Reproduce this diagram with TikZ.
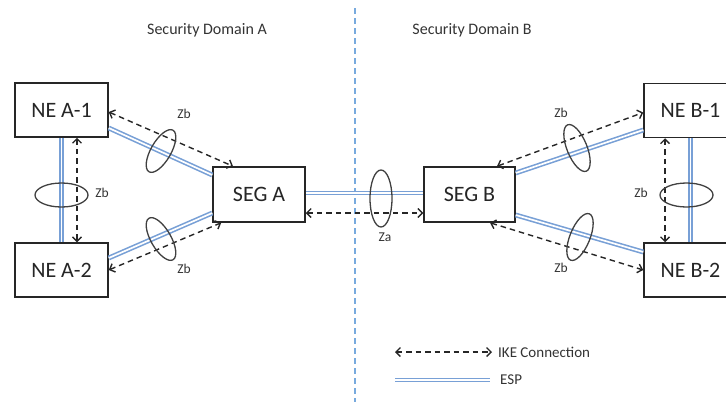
\documentclass[tikz,border=0pt]{standalone}
\usepackage{fontspec}
\setmainfont{Carlito}
\usetikzlibrary{arrows.meta}
\definecolor{espblue}{RGB}{120,160,214}
\definecolor{divblue}{RGB}{120,170,222}
\begin{document}
\begin{tikzpicture}[x=1pt,y=-1pt,
  box/.style={draw=black!85, line width=1.5pt, fill=white, minimum width=93pt, minimum height=54pt, inner sep=0pt, font=\fontsize{22}{25}\selectfont, text=black!85},
  esp/.style={draw=espblue, double=white, line width=1.6pt, double distance=1.7pt},
  ike/.style={draw=black!85, line width=1.4pt, dash pattern=on 5.5pt off 4pt, {Straight Barb[length=4.5pt,width=9pt]}-{Straight Barb[length=4.5pt,width=9pt]}},
  ring/.style={draw=black!75, line width=1.3pt},
  zlab/.style={font=\fontsize{13.5}{15}\selectfont, text=black!80, inner sep=0pt},
  dom/.style={font=\fontsize{16}{18}\selectfont, text=black!80, inner sep=0pt},
  leg/.style={font=\fontsize{15}{17}\selectfont, text=black!80, inner sep=0pt, anchor=west},
  divider/.style={draw=divblue, line width=1.2pt, dash pattern=on 6pt off 4pt}
]
\useasboundingbox (0,0) rectangle (726,402);
\clip (0,0) rectangle (726,402);

% divider
\coordinate (d1) at (355,8);
\coordinate (d2) at (355,402);
\draw[divider] (d1) -- (d2);

% domain titles
\node[dom] (domA) at (207,30) {Security Domain A};
\node[dom] (domB) at (472,30) {Security Domain B};

% boxes
\node[box] (NEA1) at (61.5,110) {NE A-1};
\node[box] (NEA2) at (61.5,270) {NE A-2};
\node[box, minimum width=92pt, minimum height=55pt] (SEGA) at (259,194.5) {SEG A};
\node[box, minimum width=91pt, minimum height=55pt] (SEGB) at (469.5,194.5) {SEG B};
\node[box] (NEB1) at (690.5,110.5) {NE B-1};
\node[box] (NEB2) at (690.5,270) {NE B-2};

% ESP links
\draw[esp] (NEA1.south) -- (NEA2.north);
\draw[esp] ([yshift=-18pt]NEA1.east) -- ([yshift=19.5pt]SEGA.west);
\draw[esp] ([yshift=12pt]NEA2.east) -- ([yshift=-18.5pt]SEGA.west);
\draw[esp] ([yshift=1.5pt]SEGA.east) -- ([yshift=1.5pt]SEGB.west);
\draw[esp] ([yshift=21.5pt]SEGB.east) -- ([yshift=-19.5pt]NEB1.west);
\draw[esp] ([yshift=-20.5pt]SEGB.east) -- ([yshift=18pt]NEB2.west);
\draw[esp] (NEB1.south) -- (NEB2.north);

% IKE connections
\draw[ike] ([xshift=15.5pt]NEA1.south) -- ([xshift=15.5pt]NEA2.north);
\draw[ike] ([yshift=-2pt]NEA1.east) -- ([xshift=-26pt]SEGA.north);
\draw[ike] (NEA2.east) -- ([xshift=9pt]SEGA.south west);
\draw[ike] ([yshift=-18.5pt]SEGA.east) -- ([yshift=-18.5pt]SEGB.west);
\draw[ike] ([xshift=27.5pt]SEGB.north) -- ([yshift=-2pt]NEB1.west);
\draw[ike] ([xshift=20.5pt]SEGB.south) -- (NEB2.west);
\draw[ike] ([xshift=-25.5pt]NEB1.south) -- ([xshift=-25.5pt]NEB2.north);

% rings
\coordinate (rAv) at (61.5,195);
\coordinate (rA1) at (161,151);
\coordinate (rA2) at (161,239);
\coordinate (rS) at (381,198.5);
\coordinate (rB1) at (577,148);
\coordinate (rB2) at (580,237);
\coordinate (rBv) at (686.5,195);
\draw[ring] (rAv) ellipse [x radius=26.5pt, y radius=12pt];
\draw[ring, shift={(rA1)}, rotate=-30] (0,0) ellipse [x radius=10pt, y radius=24pt];
\draw[ring, shift={(rA2)}, rotate=30] (0,0) ellipse [x radius=10pt, y radius=24pt];
\draw[ring] (rS) ellipse [x radius=11pt, y radius=28.5pt];
\draw[ring, shift={(rB1)}, rotate=22] (0,0) ellipse [x radius=10pt, y radius=25pt];
\draw[ring, shift={(rB2)}, rotate=-22] (0,0) ellipse [x radius=10pt, y radius=25pt];
\draw[ring] (rBv) ellipse [x radius=26.5pt, y radius=12pt];

% ring labels
\node[zlab] (zAv) at (102,193) {Zb};
\node[zlab] (zA1) at (184,114) {Zb};
\node[zlab] (zA2) at (184,269) {Zb};
\node[zlab] (zS) at (385,237) {Za};
\node[zlab] (zB1) at (561,113) {Zb};
\node[zlab] (zB2) at (561,268) {Zb};
\node[zlab] (zBv) at (641,193) {Zb};

% legend
\coordinate (LI1) at (395,352);
\coordinate (LI2) at (492,352);
\draw[ike] (LI1) -- (LI2);
\node[leg] (LIt) at (498,352) {IKE Connection};
\coordinate (LE1) at (395,380);
\coordinate (LE2) at (490,380);
\draw[esp] (LE1) -- (LE2);
\node[leg] (LEt) at (500,380) {ESP};
\end{tikzpicture}
\end{document}
